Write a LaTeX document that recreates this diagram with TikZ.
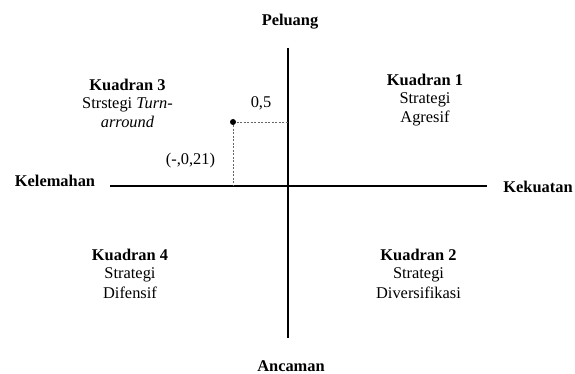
\documentclass[tikz,border=0pt]{standalone}
\usepackage{fontspec}
\setmainfont{Liberation Serif}
\begin{document}
\begin{tikzpicture}[x=1pt,y=-1pt,
  lbl/.style={inner sep=0pt,anchor=base,font=\fontsize{16.4}{19}\selectfont},
  hd/.style={lbl,font=\fontsize{16.4}{19}\selectfont\bfseries},
  axis/.style={line width=2.8pt},
  guide/.style={line width=0.6pt,gray!80!black,dash pattern=on 2pt off 1.5pt}]
\useasboundingbox (0,0) rectangle (575,374);
% axes
\coordinate (top) at (288,48);
\coordinate (bot) at (288,338);
\coordinate (left) at (110,186);
\coordinate (right) at (487,186);
\draw[axis] (top) -- (bot);
\draw[axis] (left) -- (right);
% axis labels
\node[hd] (peluang) at (290,26) {Peluang};
\node[hd] (ancaman) at (291,371) {Ancaman};
\node[hd] (kelemahan) at (55,186) {Kelemahan};
\node[hd] (kekuatan) at (538,193) {Kekuatan};
% point
\coordinate (pt) at (233,122);
\coordinate (py) at (288,122);
\coordinate (px) at (233,186);
\draw[guide] (pt) -- (py);
\draw[guide] (pt) -- (px);
\fill (pt) circle (3pt);
\node[lbl] (v05) at (261,108) {0,5};
\node[lbl] (v021) at (190.5,165) {(-,0,21)};
% quadrants
\node[hd] (q3a) at (127.5,91) {Kuadran 3};
\node[lbl] (q3b) at (127.5,109) {Strstegi \textit{Turn-}};
\node[lbl] (q3c) at (127.5,128) {\textit{arround}};
\node[hd] (q1a) at (425,86) {Kuadran 1};
\node[lbl] (q1b) at (425,104) {Strategi};
\node[lbl] (q1c) at (425,123) {Agresif};
\node[hd] (q4a) at (130,260) {Kuadran 4};
\node[lbl] (q4b) at (130,278) {Strategi};
\node[lbl] (q4c) at (130,298) {Difensif};
\node[hd] (q2a) at (418.5,260) {Kuadran 2};
\node[lbl] (q2b) at (418.5,278) {Strategi};
\node[lbl] (q2c) at (418.5,298) {Diversifikasi};
\end{tikzpicture}
\end{document}
